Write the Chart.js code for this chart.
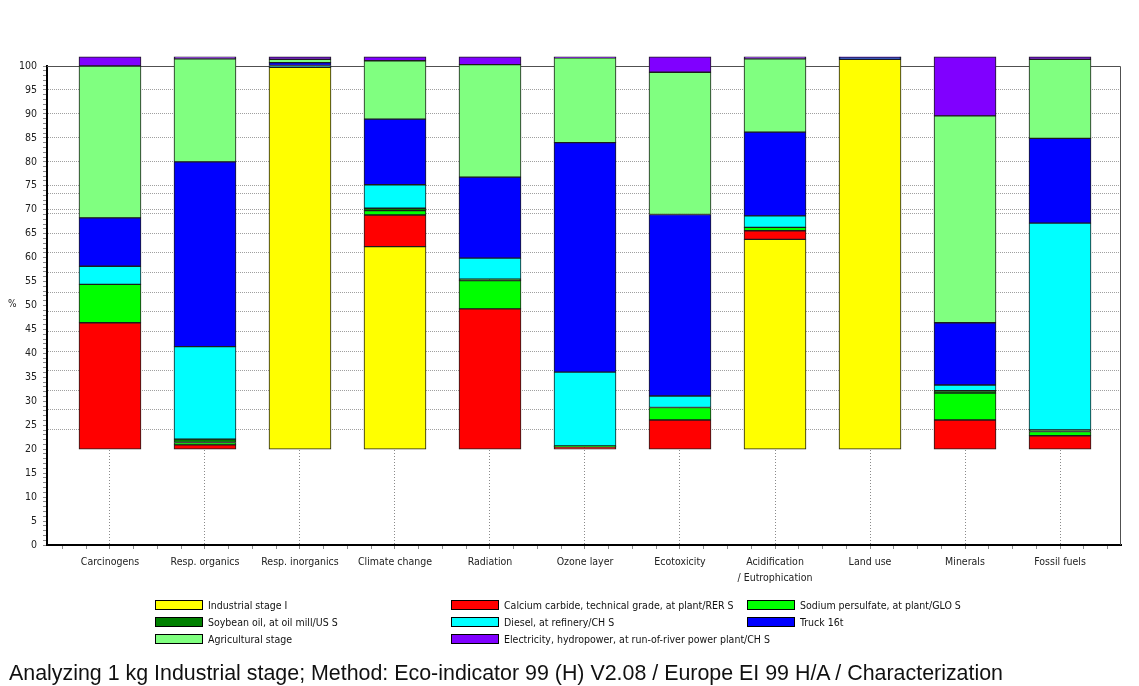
<!DOCTYPE html>
<html>
<head>
<meta charset="utf-8">
<script src="https://cdn.jsdelivr.net/npm/chart.js@4.4.1/dist/chart.umd.min.js"></script>
<style>
  html, body { margin: 0; padding: 0; background: #fff; }
  #wrap { position: relative; width: 1139px; height: 686px; overflow: hidden; }
  #c { position: absolute; left: 0; top: 0; }
  #pct { position: absolute; left: 8px; top: 298px; font: 10px 'DejaVu Sans Condensed', 'DejaVu Sans', sans-serif; color: #222; }
  #legend { position: absolute; left: 155px; top: 597px; display: grid; grid-template-columns: 296px 296px 320px; }
  .item { display: flex; align-items: center; height: 16.7px; font: 10.5px 'DejaVu Sans Condensed', 'DejaVu Sans', sans-serif; color: #111; white-space: nowrap; }
  .box { width: 48px; height: 10px; border: 1px solid #000; box-sizing: border-box; margin-right: 5px; flex: none; }
  #foot { position: absolute; left: 9px; top: 661px; font: 21.4px 'Liberation Sans', Arial, sans-serif; color: #111; white-space: nowrap; line-height: 24px; }
</style>
</head>
<body>
<div id="wrap">
  <canvas id="c" width="1139" height="686"></canvas>
  <div id="pct">%</div>
  <div id="legend"></div>
  <div id="foot">Analyzing 1 kg Industrial stage; Method: Eco-indicator 99 (H) V2.08 / Europe EI 99 H/A / Characterization</div>
</div>
<script>
// ---------- data ----------
const categories = [
  'Carcinogens', 'Resp. organics', 'Resp. inorganics', 'Climate change', 'Radiation',
  'Ozone layer', 'Ecotoxicity', ['Acidification', '/ Eutrophication'], 'Land use', 'Minerals', 'Fossil fuels'
];
const barBase = 20;
const industrialStage  = [0,    0,    79.7, 42.3, 0,    0,    0,    43.8, 81.4, 0,    0];
const calciumCarbide   = [26.4, 0.9,  0.1,  6.6,  29.3, 0.5,  6.1,  1.8,  0,    6.1,  2.8];
const sodiumPersulfate = [8.0,  0.5,  0,    0.9,  5.9,  0.1,  2.6,  0.7,  0,    5.6,  0.9];
const soybeanOil       = [0,    0.7,  0,    0.5,  0.3,  0.1,  0,    0,    0,    0.5,  0.3];
const diesel           = [3.8,  19.3, 0.3,  4.9,  4.4,  15.4, 2.4,  2.4,  0.1,  1.2,  43.2];
const truck16t         = [10.1, 38.6, 0.6,  13.7, 16.9, 47.9, 37.9, 17.5, 0.3,  13.0, 17.7];
const agricultural     = [31.7, 21.5, 0.7,  12.2, 23.5, 17.7, 29.7, 15.3, 0,    43.2, 16.5];
const electricity      = [1.9,  0.4,  0.5,  0.8,  1.6,  0.2,  3.2,  0.4,  0.1,  12.3, 0.5];

const seriesLabels = [
  'Industrial stage I',
  'Calcium carbide, technical grade, at plant/RER S',
  'Sodium persulfate, at plant/GLO S',
  'Soybean oil, at oil mill/US S',
  'Diesel, at refinery/CH S',
  'Truck 16t',
  'Agricultural stage',
  'Electricity, hydropower, at run-of-river power plant/CH S'
];
const seriesValues = [industrialStage, calciumCarbide, sodiumPersulfate, soybeanOil, diesel, truck16t, agricultural, electricity];
const seriesColors = ['#ffff00', '#ff0000', '#00ff00', '#008000', '#00ffff', '#0000ff', '#80ff80', '#8000ff'];

const yTickLabels = [0,5,10,15,20,25,30,35,40,45,50,55,60,65,70,75,80,85,90,95,100];
const yMinorTicks = [];
for (let v = 0; v <= 100; v++) yMinorTicks.push(v);
const gridValues = [24.1, 28.2, 32.3, 36.4, 40.5, 44.6, 48.7, 52.8, 56.9, 61, 65.1, 69.2, 70, 73.3, 75, 80, 85, 90, 95];

// ---------- build ----------
const FONT = "'DejaVu Sans Condensed', 'DejaVu Sans', sans-serif";
const running = categories.map(() => barBase);
const datasets = seriesValues.map((vals, s) => {
  const data = [];
  vals.forEach((v, i) => {
    const a = running[i];
    running[i] = a + v;
    if (v > 0) data.push({ x: i, y: [a, a + v] });
  });
  return {
    label: seriesLabels[s],
    data,
    backgroundColor: seriesColors[s],
    borderColor: '#1c1c1c',
    borderWidth: 1,
    borderSkipped: false,
    barThickness: 62,
    grouped: false,
    clip: false
  };
});

const xTickPositions = [];
for (let k = 0; k <= categories.length * 4; k++) xTickPositions.push(-0.5 + 0.25 * k);
const yTickValues = Array.from(new Set(yMinorTicks.concat(gridValues))).sort((a, b) => a - b);
const gridSet = new Set(gridValues);
const labelSet = new Set(yTickLabels);

const framePlugin = {
  id: 'frame',
  beforeDatasetsDraw(chart) {
    const { ctx, chartArea: a } = chart;
    ctx.save();
    ctx.strokeStyle = '#505050';
    ctx.lineWidth = 1;
    ctx.beginPath();
    ctx.moveTo(a.left, a.top + 0.5);
    ctx.lineTo(a.right - 0.5, a.top + 0.5);
    ctx.lineTo(a.right - 0.5, a.bottom);
    ctx.stroke();
    ctx.restore();
  }
};

Chart.defaults.font.family = FONT;
const chart = new Chart(document.getElementById('c'), {
  type: 'bar',
  data: { datasets },
  plugins: [framePlugin],
  options: {
    responsive: false,
    animation: false,
    layout: { padding: { top: 66, right: 18, bottom: 101, left: 0 } },
    plugins: { legend: { display: false }, tooltip: { enabled: false } },
    scales: {
      x: {
        type: 'linear',
        offset: false,
        min: -0.663,
        max: 10.642,
        afterBuildTicks: ax => { ax.ticks = xTickPositions.map(v => ({ value: v })); },
        afterFit: ax => { ax.height = 40; },
        ticks: {
          autoSkip: false, maxRotation: 0, minRotation: 0, padding: 5, color: '#222',
          font: { family: FONT, size: 10.5, lineHeight: 1.55 },
          callback: v => Number.isInteger(v) ? categories[v] : ''
        },
        grid: {
          offset: false,
          color: c => (c.tick && Number.isInteger(c.tick.value)) ? '#8a8a8a' : 'rgba(0,0,0,0)',
          tickColor: '#8a8a8a',
          tickLength: 4,
          lineWidth: 1
        },
        border: { display: true, color: '#000', width: 2, dash: [1, 2] }
      },
      y: {
        type: 'linear',
        min: 0,
        max: 100,
        afterBuildTicks: ax => { ax.ticks = yTickValues.map(v => ({ value: v })); },
        afterFit: ax => { ax.width = 47; },
        ticks: {
          autoSkip: false, padding: 6, color: '#222',
          font: { family: FONT, size: 10.5 },
          callback: v => labelSet.has(v) ? String(v) : ''
        },
        grid: {
          color: c => (c.tick && gridSet.has(c.tick.value)) ? '#a0a0a0' : 'rgba(0,0,0,0)',
          tickColor: c => (c.tick && Number.isInteger(c.tick.value)) ? '#8a8a8a' : 'rgba(0,0,0,0)',
          tickLength: 4,
          lineWidth: 1
        },
        border: { display: true, color: '#000', width: 2, dash: [1, 1] }
      }
    }
  }
});

// HTML legend built from the chart's datasets
const legend = document.getElementById('legend');
chart.data.datasets.forEach(ds => {
  const item = document.createElement('div');
  item.className = 'item';
  const box = document.createElement('span');
  box.className = 'box';
  box.style.background = ds.backgroundColor;
  const txt = document.createElement('span');
  txt.textContent = ds.label;
  item.appendChild(box);
  item.appendChild(txt);
  legend.appendChild(item);
});
</script>
</body>
</html>
